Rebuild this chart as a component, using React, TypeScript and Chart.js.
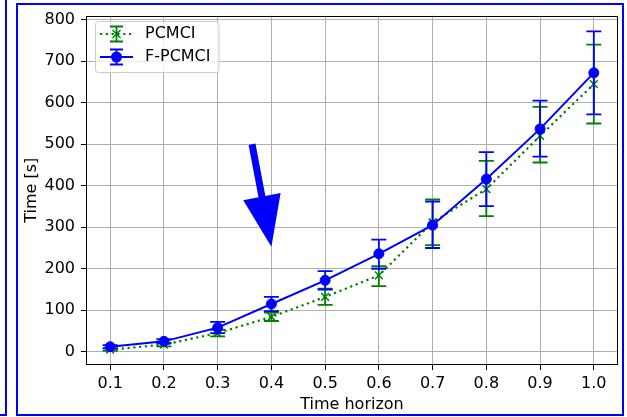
import React, { useEffect, useRef } from 'react';
import { Chart, registerables } from 'chart.js';

Chart.register(...registerables);

const horizons = [0.1, 0.2, 0.3, 0.4, 0.5, 0.6, 0.7, 0.8, 0.9, 1.0];

const pcmciMean = [5, 17, 45, 84, 132, 184, 312, 392, 520, 645];
const pcmciLow = [2, 13, 37, 74, 113, 158, 257, 327, 456, 550];
const pcmciHigh = [8, 21, 53, 94, 152, 206, 367, 460, 590, 740];

const fpcmciMean = [12, 25, 58, 115, 172, 236, 305, 416, 537, 672];
const fpcmciLow = [8, 20, 45, 98, 150, 200, 250, 351, 470, 572];
const fpcmciHigh = [16, 30, 72, 132, 194, 270, 362, 481, 605, 772];

const xTickValues = [0.1, 0.2, 0.3, 0.4, 0.5, 0.6, 0.7, 0.8, 0.9, 1.0];
const yTickValues = [0, 100, 200, 300, 400, 500, 600, 700, 800];

const arrowStart = [0.364, 500];
const arrowEnd = [0.4, 253];

const GREEN = '#008000';
const BLUE = '#0000ff';
const FONT = "'DejaVu Sans', sans-serif";
const FS = 16;

const errorBarPlugin = {
  id: 'errorBars',
  beforeDatasetDraw(chart: any, args: any) {
    const ds = chart.data.datasets[args.index];
    const eb = ds.errorBars;
    if (!eb) return;
    const { ctx, scales } = chart;
    const xs = scales.x;
    const ys = scales.y;
    ctx.save();
    ctx.strokeStyle = ds.borderColor;
    ctx.lineWidth = 1.8;
    ctx.setLineDash([]);
    for (let i = 0; i < ds.data.length; i++) {
      const px = xs.getPixelForValue(ds.data[i].x);
      const pl = ys.getPixelForValue(eb.low[i]);
      const ph = ys.getPixelForValue(eb.high[i]);
      ctx.beginPath();
      ctx.moveTo(px, pl);
      ctx.lineTo(px, ph);
      ctx.moveTo(px - 7.5, pl);
      ctx.lineTo(px + 7.5, pl);
      ctx.moveTo(px - 7.5, ph);
      ctx.lineTo(px + 7.5, ph);
      ctx.stroke();
    }
    ctx.restore();
  },
};

const decorPlugin = {
  id: 'decor',
  afterDatasetsDraw(chart: any) {
    const { ctx, chartArea, scales } = chart;
    const x0 = scales.x.getPixelForValue(arrowStart[0]);
    const y0 = scales.y.getPixelForValue(arrowStart[1]);
    const x1 = scales.x.getPixelForValue(arrowEnd[0]);
    const y1 = scales.y.getPixelForValue(arrowEnd[1]);
    const dx = x1 - x0;
    const dy = y1 - y0;
    const len = Math.hypot(dx, dy);
    const ux = dx / len;
    const uy = dy / len;
    const nx = -uy;
    const ny = ux;
    const headLen = 51;
    const headW = 38;
    const shaftW = 7;
    const bx = x1 - ux * headLen;
    const by = y1 - uy * headLen;
    ctx.save();
    ctx.fillStyle = BLUE;
    ctx.beginPath();
    ctx.moveTo(x0 + nx * shaftW / 2, y0 + ny * shaftW / 2);
    ctx.lineTo(bx + nx * shaftW / 2, by + ny * shaftW / 2);
    ctx.lineTo(bx + nx * headW / 2, by + ny * headW / 2);
    ctx.lineTo(x1, y1);
    ctx.lineTo(bx - nx * headW / 2, by - ny * headW / 2);
    ctx.lineTo(bx - nx * shaftW / 2, by - ny * shaftW / 2);
    ctx.lineTo(x0 - nx * shaftW / 2, y0 - ny * shaftW / 2);
    ctx.closePath();
    ctx.fill();
    ctx.restore();
    ctx.save();
    ctx.strokeStyle = '#000';
    ctx.lineWidth = 1;
    ctx.strokeRect(
      Math.round(chartArea.left) + 0.5,
      Math.round(chartArea.top) + 0.5,
      Math.round(chartArea.right - chartArea.left) - 1,
      Math.round(chartArea.bottom - chartArea.top) - 1
    );
    ctx.restore();
  },
  afterDraw(chart: any) {
    const { ctx } = chart;
    const dsets = chart.data.datasets;
    ctx.save();
    ctx.font = `${FS}px ${FONT}`;
    let maxW = 0;
    dsets.forEach((d: any) => {
      maxW = Math.max(maxW, ctx.measureText(d.label).width);
    });
    const bx = 95.5;
    const by = 21.5;
    const bw = 145 - 95 + maxW + 8;
    const bh = 51;
    const r = 3;
    ctx.beginPath();
    ctx.moveTo(bx + r, by);
    ctx.lineTo(bx + bw - r, by);
    ctx.arcTo(bx + bw, by, bx + bw, by + r, r);
    ctx.lineTo(bx + bw, by + bh - r);
    ctx.arcTo(bx + bw, by + bh, bx + bw - r, by + bh, r);
    ctx.lineTo(bx + r, by + bh);
    ctx.arcTo(bx, by + bh, bx, by + bh - r, r);
    ctx.lineTo(bx, by + r);
    ctx.arcTo(bx, by, bx + r, by, r);
    ctx.closePath();
    ctx.fillStyle = 'rgba(255,255,255,0.8)';
    ctx.fill();
    ctx.strokeStyle = '#cccccc';
    ctx.lineWidth = 1;
    ctx.stroke();

    const rows = [34, 57];
    dsets.forEach((d: any, i: number) => {
      const cy = rows[i];
      const cx = 116.5;
      ctx.strokeStyle = d.borderColor;
      ctx.lineWidth = d.borderWidth;
      ctx.setLineDash(d.borderDash || []);
      ctx.beginPath();
      ctx.moveTo(100, cy);
      ctx.lineTo(133, cy);
      ctx.stroke();
      ctx.setLineDash([]);
      ctx.lineWidth = 1.8;
      ctx.beginPath();
      ctx.moveTo(cx, cy - 7.5);
      ctx.lineTo(cx, cy + 7.5);
      ctx.moveTo(cx - 6.5, cy - 7.5);
      ctx.lineTo(cx + 6.5, cy - 7.5);
      ctx.moveTo(cx - 6.5, cy + 7.5);
      ctx.lineTo(cx + 6.5, cy + 7.5);
      ctx.stroke();
      if (d.pointStyle === 'crossRot') {
        const o = 4;
        ctx.lineWidth = 1.5;
        ctx.beginPath();
        ctx.moveTo(cx - o, cy - o);
        ctx.lineTo(cx + o, cy + o);
        ctx.moveTo(cx - o, cy + o);
        ctx.lineTo(cx + o, cy - o);
        ctx.stroke();
      } else {
        ctx.fillStyle = d.borderColor;
        ctx.beginPath();
        ctx.arc(cx, cy, 5.5, 0, Math.PI * 2);
        ctx.fill();
      }
      ctx.fillStyle = '#000';
      ctx.textBaseline = 'middle';
      ctx.textAlign = 'left';
      ctx.fillText(d.label, 145, cy);
    });
    ctx.restore();
  },
};

export default function App() {
  const canvasRef = useRef<HTMLCanvasElement | null>(null);

  useEffect(() => {
    if (!canvasRef.current) return;
    const chart = new Chart(canvasRef.current, {
      type: 'line',
      data: {
        datasets: [
          {
            label: 'PCMCI',
            data: horizons.map((x, i) => ({ x, y: pcmciMean[i] })),
            borderColor: GREEN,
            backgroundColor: GREEN,
            borderWidth: 2.2,
            borderDash: [2.2, 3.6],
            pointStyle: 'crossRot',
            pointRadius: 5.5,
            pointBorderWidth: 1.5,
            pointBorderColor: GREEN,
            tension: 0,
            order: 2,
            errorBars: { low: pcmciLow, high: pcmciHigh },
          } as any,
          {
            label: 'F-PCMCI',
            data: horizons.map((x, i) => ({ x, y: fpcmciMean[i] })),
            borderColor: BLUE,
            backgroundColor: BLUE,
            borderWidth: 2,
            pointStyle: 'circle',
            pointRadius: 5,
            pointBorderWidth: 1,
            pointBackgroundColor: BLUE,
            pointBorderColor: BLUE,
            tension: 0,
            order: 1,
            errorBars: { low: fpcmciLow, high: fpcmciHigh },
          } as any,
        ],
      },
      options: {
        animation: false,
        responsive: false,
        layout: { padding: { left: 0, top: 14, right: 9, bottom: 0 } },
        plugins: {
          legend: { display: false },
          tooltip: { enabled: false },
        },
        scales: {
          x: {
            type: 'linear',
            min: 0.055,
            max: 1.045,
            afterBuildTicks: (scale: any) => {
              scale.ticks = xTickValues.map((v) => ({ value: v }));
            },
            afterFit: (scale: any) => {
              scale.height = 52;
            },
            ticks: {
              color: '#000',
              font: { family: FONT, size: FS },
              padding: 4,
              maxRotation: 0,
              autoSkip: false,
              callback: (v: any) => Number(v).toFixed(1),
            },
            grid: {
              color: '#b0b0b0',
              lineWidth: 1,
              tickColor: '#000',
              tickLength: 5,
              tickWidth: 1,
            },
            border: { display: false },
            title: {
              display: true,
              text: 'Time horizon',
              color: '#000',
              font: { family: FONT, size: FS },
              padding: { top: 0, bottom: 2.4 },
            },
          },
          y: {
            type: 'linear',
            min: -32,
            max: 810,
            afterBuildTicks: (scale: any) => {
              scale.ticks = yTickValues.map((v) => ({ value: v }));
            },
            afterFit: (scale: any) => {
              scale.width = 86;
            },
            ticks: {
              color: '#000',
              font: { family: FONT, size: FS },
              padding: 6,
              autoSkip: false,
            },
            grid: {
              color: '#b0b0b0',
              lineWidth: 1,
              tickColor: '#000',
              tickLength: 5,
              tickWidth: 1,
            },
            border: { display: false },
            title: {
              display: true,
              text: 'Time [s]',
              color: '#000',
              font: { family: FONT, size: FS },
              padding: { top: 22.4, bottom: 0 },
            },
          },
        },
      },
      plugins: [errorBarPlugin, decorPlugin],
    } as any);
    return () => chart.destroy();
  }, []);

  return (
    <div
      style={{
        position: 'fixed',
        left: 0,
        top: 0,
        width: 627,
        height: 417,
        overflow: 'hidden',
        background: '#fff',
      }}
    >
      <canvas
        ref={canvasRef}
        width={627}
        height={417}
        style={{ position: 'absolute', left: 0, top: 0, width: 627, height: 417 }}
      />
      <div
        style={{
          position: 'absolute',
          left: -10,
          top: -10,
          width: 17,
          height: 426,
          border: `2px solid ${BLUE}`,
          boxSizing: 'border-box',
        }}
      />
      <div
        style={{
          position: 'absolute',
          left: 16,
          top: 3,
          width: 608,
          height: 413,
          border: `2px solid ${BLUE}`,
          boxSizing: 'border-box',
        }}
      />
    </div>
  );
}
